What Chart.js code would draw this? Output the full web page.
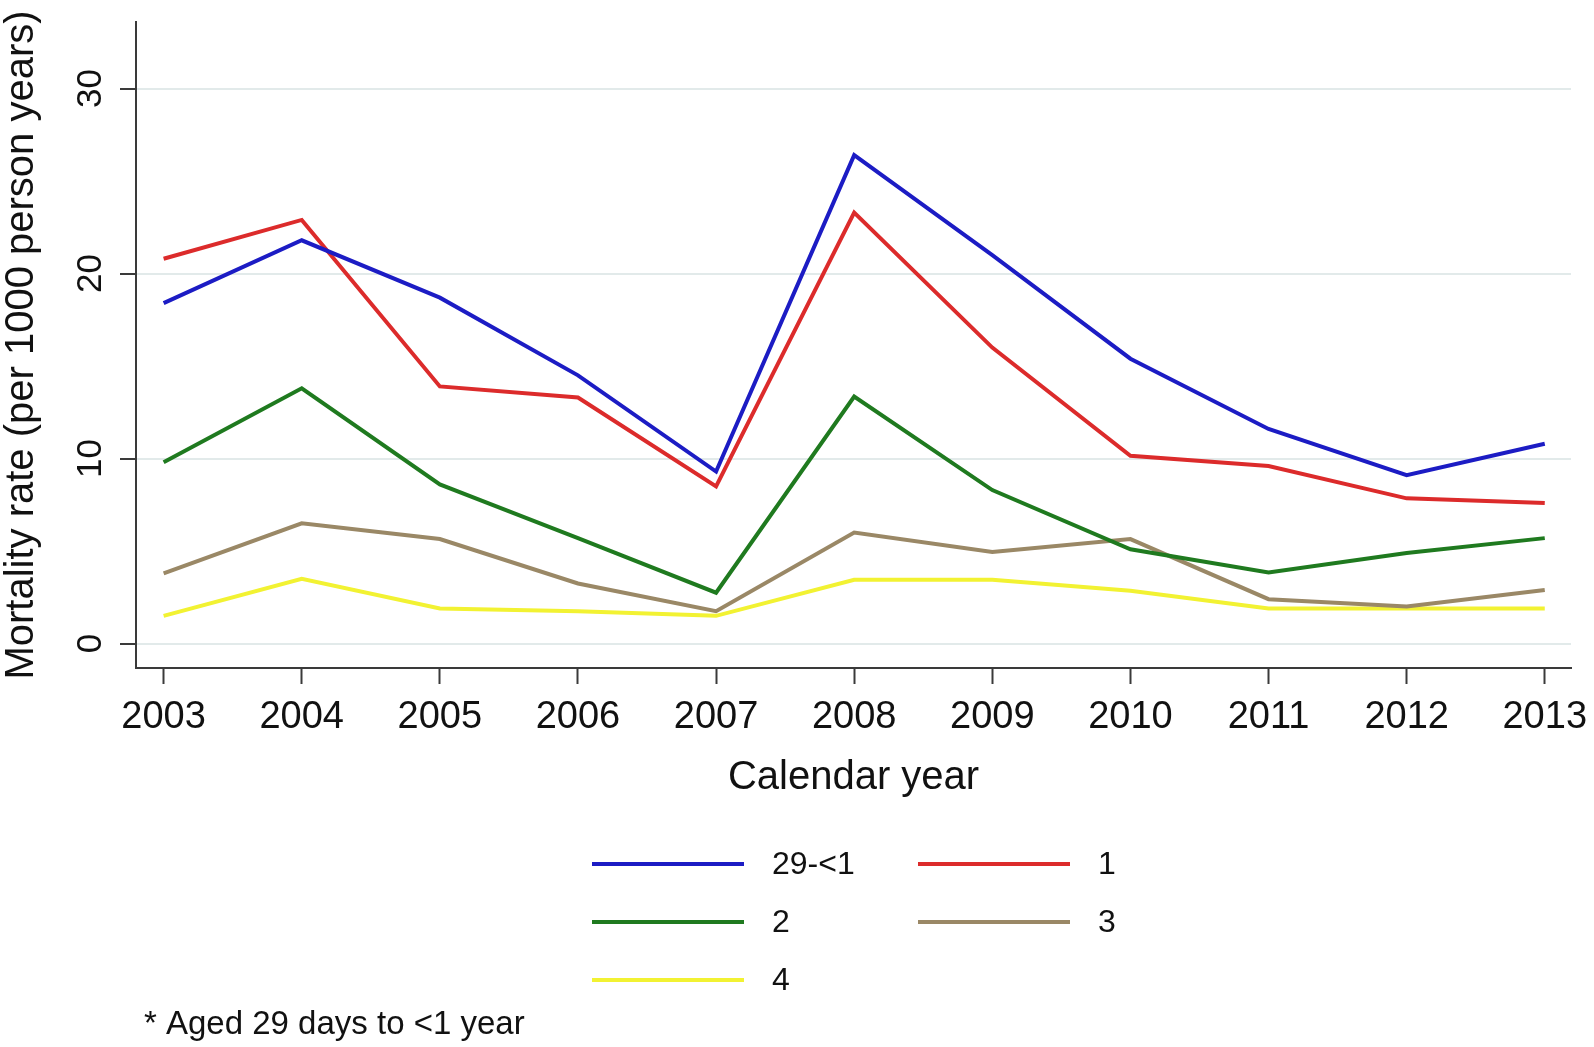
<!DOCTYPE html>
<html lang="en">
<head>
<meta charset="UTF-8">
<title>Mortality rate by calendar year</title>
<script src="https://cdn.jsdelivr.net/npm/chart.js"></script>
<style>
    html, body { margin: 0; padding: 0; background: #ffffff; }
    .wrap { width: 1594px; height: 1047px; position: relative; }
</style>
</head>
<body>
<div class="wrap"><canvas id="mortChart"></canvas></div>
<script>
// values
const years = [2003, 2004, 2005, 2006, 2007, 2008, 2009, 2010, 2011, 2012, 2013];
const yTicks = [0, 10, 20, 30];
const groupLabels = ['29-<1', '1', '2', '3', '4'];
const groupColors = ['#1c1cc4', '#dc2b2b', '#1f7a1f', '#9a8866', '#f2f232'];

const rateInfant = [18.4, 21.8, 18.7, 14.5, 9.3, 26.4, 21.0, 15.4, 11.6, 9.1, 10.8];
const rateAge1   = [20.8, 22.9, 13.9, 13.3, 8.5, 23.3, 16.0, 10.15, 9.6, 7.85, 7.6];
const rateAge2   = [9.8, 13.8, 8.6, 5.7, 2.75, 13.35, 8.3, 5.1, 3.85, 4.9, 5.7];
const rateAge3   = [3.8, 6.5, 5.65, 3.25, 1.75, 6.0, 4.95, 5.65, 2.4, 2.0, 2.9];
const rateAge4   = [1.5, 3.5, 1.9, 1.75, 1.5, 3.45, 3.45, 2.85, 1.9, 1.9, 1.9];
const seriesValues = [rateInfant, rateAge1, rateAge2, rateAge3, rateAge4];

const footnote = '* Aged 29 days to <1 year';
const fontFamily = '"Liberation Sans", Arial, sans-serif';
const axisColor = '#3a3a3a';

// Stata-style legend (2 columns) + footnote under the plot
const legendAndNote = {
    id: 'legendAndNote',
    afterDraw(chart) {
        const ctx = chart.ctx;
        ctx.save();
        ctx.font = '32px ' + fontFamily;
        ctx.textBaseline = 'middle';
        ctx.fillStyle = '#111';
        const colX = [592, 918];
        const rowY = [864, 922, 980];
        chart.data.datasets.forEach((ds, i) => {
            const cx = colX[i % 2];
            const cy = rowY[Math.floor(i / 2)];
            ctx.strokeStyle = ds.borderColor;
            ctx.lineWidth = 4;
            ctx.beginPath();
            ctx.moveTo(cx, cy);
            ctx.lineTo(cx + 152, cy);
            ctx.stroke();
            ctx.fillText(ds.label, cx + 180, cy + 1);
        });
        ctx.font = '33px ' + fontFamily;
        ctx.fillText(footnote, 144, 1025);
        ctx.restore();
    }
};

const ctx = document.getElementById('mortChart').getContext('2d');
new Chart(ctx, {
    type: 'line',
    data: {
        datasets: seriesValues.map((vals, i) => ({
            label: groupLabels[i],
            data: years.map((yr, j) => ({ x: yr, y: vals[j] })),
            borderColor: groupColors[i],
            backgroundColor: groupColors[i],
            borderWidth: 4,
            pointRadius: 0,
            tension: 0,
            fill: false
        }))
    },
    options: {
        responsive: true,
        maintainAspectRatio: false,
        animation: false,
        layout: { padding: { left: 0, top: 22, right: 23, bottom: 245 } },
        plugins: {
            legend: { display: false },
            tooltip: { enabled: false }
        },
        scales: {
            x: {
                type: 'linear',
                min: 2002.8,
                max: 2013.19,
                afterBuildTicks: s => { s.ticks = years.map(v => ({ value: v })); },
                afterFit: s => {
                    s.height = 134;
                    s.paddingLeft = 0;
                    s.paddingRight = 0;
                },
                ticks: {
                    font: { size: 38, family: fontFamily },
                    color: '#111',
                    padding: 11,
                    maxRotation: 0,
                    callback: v => String(v)
                },
                grid: {
                    drawOnChartArea: false,
                    drawTicks: true,
                    tickLength: 16,
                    tickColor: axisColor,
                    tickWidth: 2
                },
                border: { display: true, color: axisColor, width: 2 },
                title: {
                    display: true,
                    text: 'Calendar year',
                    color: '#111',
                    font: { size: 40, family: fontFamily, lineHeight: 1.2 },
                    padding: 0
                }
            },
            y: {
                min: -1.32,
                max: 33.6,
                afterBuildTicks: s => { s.ticks = yTicks.map(v => ({ value: v })); },
                afterFit: s => {
                    s.width = 136;
                    s.paddingTop = 0;
                    s.paddingBottom = 0;
                },
                ticks: {
                    font: { size: 35, family: fontFamily },
                    color: '#111',
                    padding: 9,
                    minRotation: 90,
                    maxRotation: 90,
                    crossAlign: 'center',
                    callback: v => String(v)
                },
                grid: {
                    color: '#e2eaea',
                    lineWidth: 2,
                    drawTicks: true,
                    tickLength: 16,
                    tickColor: axisColor,
                    tickWidth: 2
                },
                border: { display: true, color: axisColor, width: 2 },
                title: {
                    display: true,
                    text: 'Mortality rate (per 1000 person years)',
                    color: '#111',
                    font: { size: 40, family: fontFamily, lineHeight: 1 },
                    padding: { top: 2 }
                }
            }
        }
    },
    plugins: [legendAndNote]
});
</script>
</body>
</html>
